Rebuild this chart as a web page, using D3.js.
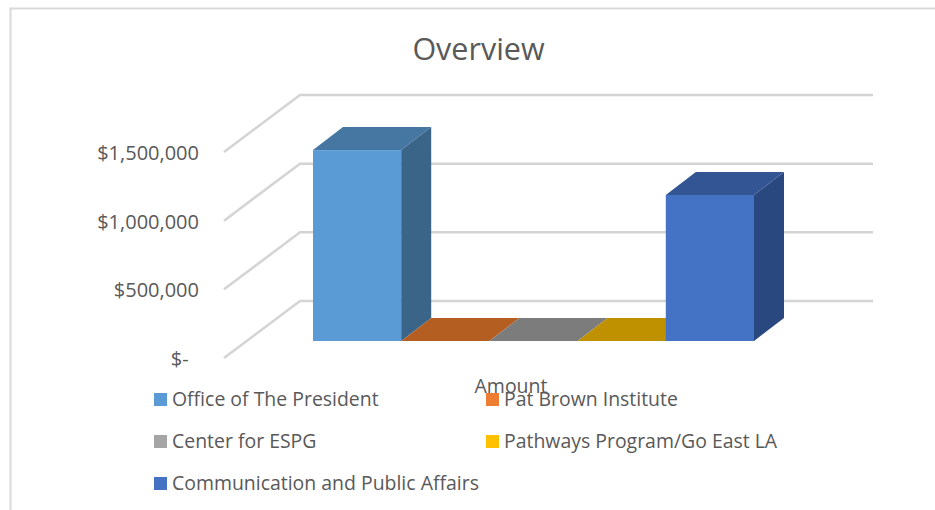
<!DOCTYPE html>
<html>
<head>
<meta charset="utf-8">
<script src="https://cdn.jsdelivr.net/npm/d3@7"></script>
<style>
  html, body { margin: 0; padding: 0; background: #fff; }
  svg { display: block; }
  text { font-family: "Open Sans", sans-serif; fill: #595959; white-space: pre; }
</style>
</head>
<body>
<div id="chart"></div>
<script>
// Chart data
const programs = ['Office of The President', 'Pat Brown Institute', 'Center for ESPG', 'Pathways Program/Go East LA', 'Communication and Public Affairs'];
const amounts = [1390000, 0, 0, 0, 1063000];
const yTicks = [0, 500000, 1000000, 1500000];
const yTickLabels = ['$-  ', '$500,000', '$1,000,000', '$1,500,000'];
const categoryLabel = 'Amount';
const chartTitle = 'Overview';

// Colours per series: front, side, top of the 3D block, plus legend swatch
const frontColors = ['#5b9bd5', '#ed7d31', '#a5a5a5', '#ffc000', '#4472c4'];
const sideColors = ['#3a6488', '#8e4b1d', '#636363', '#997300', '#2a4880'];
const topColors = ['#4676a2', '#b55e22', '#7c7c7c', '#bf9000', '#335593'];

const width = 935, height = 510;

const svg = d3.select('#chart').append('svg')
    .attr('width', width)
    .attr('height', height);

// Outer chart frame, only top and left show in the crop
svg.append('path')
    .attr('d', d3.line()([[10.5, height], [10.5, 8.5], [width, 8.5]]))
    .attr('fill', 'none')
    .attr('stroke', '#d9d9d9')
    .attr('stroke-width', 2);

svg.append('text')
    .attr('x', 478.5)
    .attr('y', 60)
    .attr('text-anchor', 'middle')
    .style('font-size', '30.5px')
    .text(chartTitle);

// Scales: the wall scale sits on the front edge of the floor, bars stand further in
const wallY = d3.scaleLinear().domain([0, 1500000]).range([358, 152]);
const barY = d3.scaleLinear().domain([0, 1500000]).range([341, 135]);
const barX = d3.scaleBand().domain(programs).range([313, 754]);

const wallX = 224, wallRight = 873;
const wallDepth = {x: 76, y: -57};
const barDepth = {x: 30, y: -23};

// Gridlines: slant on the side wall then along the back wall
svg.append('g').selectAll('path')
    .data(yTicks)
    .join('path')
    .attr('d', d => {
        const y0 = wallY(d);
        return d3.line()([[wallX, y0], [wallX + wallDepth.x, y0 + wallDepth.y], [wallRight, y0 + wallDepth.y]]);
    })
    .attr('fill', 'none')
    .attr('stroke', '#d4d4d4')
    .attr('stroke-width', 2.5);

// Y axis labels
const yAxis = svg.append('g')
    .attr('transform', 'translate(199,1)')
    .call(d3.axisLeft(wallY)
        .tickValues(yTicks)
        .tickSize(0)
        .tickPadding(0)
        .tickFormat((d, i) => yTickLabels[i]));
yAxis.select('.domain').remove();
yAxis.selectAll('text')
    .style('font-size', '20px')
    .style('font-family', '"Open Sans", sans-serif')
    .attr('fill', '#595959');

svg.append('text')
    .attr('x', 511)
    .attr('y', 393)
    .attr('text-anchor', 'middle')
    .style('font-size', '19.5px')
    .text(categoryLabel);

// 3D bars, left to right so later ones overlap earlier ones
const bars = svg.append('g').selectAll('g')
    .data(programs)
    .join('g');

bars.append('rect')
    .attr('x', d => barX(d))
    .attr('y', (d, i) => barY(amounts[i]))
    .attr('width', barX.bandwidth())
    .attr('height', (d, i) => barY(0) - barY(amounts[i]))
    .attr('fill', (d, i) => frontColors[i]);

bars.append('polygon')
    .attr('points', (d, i) => {
        const x = barX(d) + barX.bandwidth(), y0 = barY(0), y1 = barY(amounts[i]);
        return [[x, y0], [x + barDepth.x, y0 + barDepth.y], [x + barDepth.x, y1 + barDepth.y], [x, y1]].join(' ');
    })
    .attr('fill', (d, i) => sideColors[i]);

bars.append('polygon')
    .attr('points', (d, i) => {
        const x = barX(d), w = barX.bandwidth(), y1 = barY(amounts[i]);
        return [[x, y1], [x + w, y1], [x + w + barDepth.x, y1 + barDepth.y], [x + barDepth.x, y1 + barDepth.y]].join(' ');
    })
    .attr('fill', (d, i) => topColors[i]);

// Legend, two columns and three rows
const legendX = d3.scalePoint().domain([0, 1]).range([154, 486]);
const legendY = d3.scalePoint().domain([0, 1, 2]).range([399.5, 483.5]);

const legendItems = svg.append('g').selectAll('g')
    .data(programs)
    .join('g')
    .attr('transform', (d, i) => `translate(${legendX(i % 2)},${legendY(Math.floor(i / 2))})`);

legendItems.append('rect')
    .attr('x', 0)
    .attr('y', -6.5)
    .attr('width', 13)
    .attr('height', 13)
    .attr('fill', (d, i) => frontColors[i]);

legendItems.append('text')
    .attr('x', 18)
    .attr('y', 6)
    .style('font-size', '19.45px')
    .text(d => d);
</script>
</body>
</html>
